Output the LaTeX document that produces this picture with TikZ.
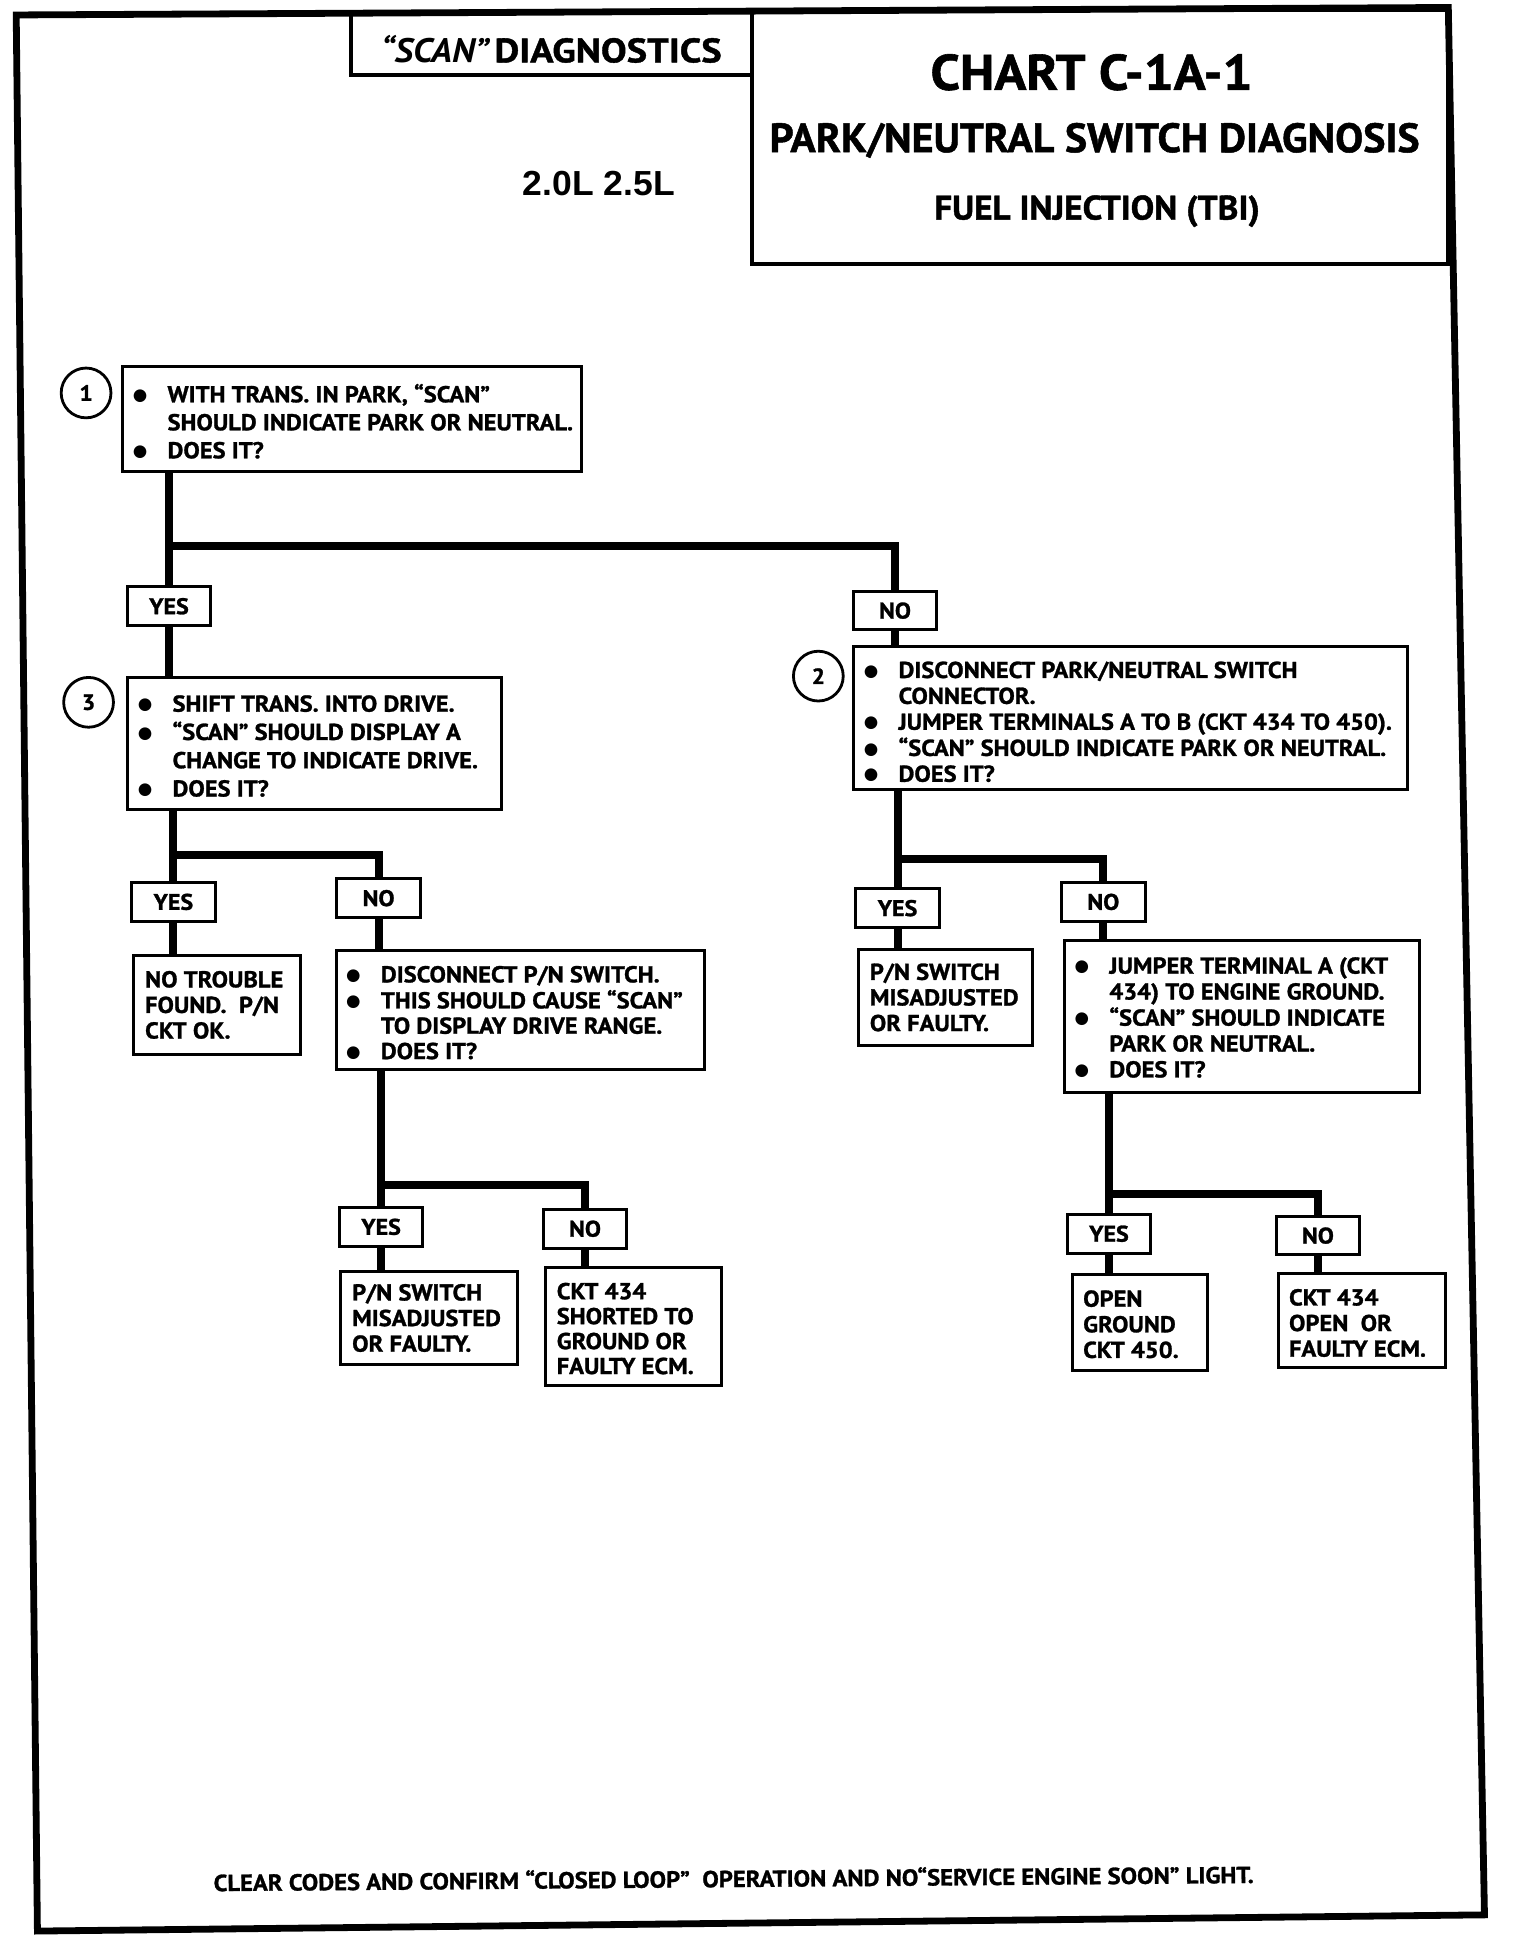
\documentclass[tikz,border=0pt]{standalone}
\usepackage{fontspec}
\usepackage{graphicx}
\setmainfont{PT Sans}[BoldFeatures={FakeStretch=1.065,FakeBold=1.2}]
\newfontfamily\libsans{Liberation Sans}
\newfontfamily\dejavu{DejaVu Sans}
\usetikzlibrary{fit,calc}
\newlength\bulw
\setlength\bulw{13.72pt}
\newcommand\bulitem{\makebox[0pt][c]{\raisebox{0.9pt}{\dejavu\fontsize{8.3}{9}\selectfont ●}}\hspace*{\bulw}}
\newcommand\hind{\hspace*{\bulw}}
\newcommand\boxlines[1]{\begin{tabular}[t]{@{}l@{}}#1\end{tabular}}
\begin{document}
\begin{tikzpicture}[x=0.6237pt,y=-0.6237pt,line join=miter,
  box/.style={draw,line width=1.5pt,inner sep=0pt},
  hbox/.style={draw,line width=2pt,inner sep=0pt},
  lab/.style={draw,line width=1.5pt,inner sep=0pt,minimum width=41.8pt,minimum height=19.3pt,font=\bfseries\fontsize{11.3}{12}\selectfont},
  num/.style={circle,draw,line width=1.4pt,minimum size=24.9pt,inner sep=0pt,font=\bfseries\fontsize{11}{12}\selectfont},
  conn/.style={line width=4pt},
  txt/.style={inner sep=0pt,anchor=base west,font=\bfseries\fontsize{11.5}{#1}\selectfont},
  txt/.default=12.8pt,
  ttl/.style={inner sep=0pt,anchor=base}
]
\fill[white] (0,0) rectangle (1218.5,1568);
\useasboundingbox (0,0) rectangle (1218.5,1568);
% outer border
\draw[line width=3.4pt] (13,12) -- (1161,6) -- (1190,1535) -- (30,1548) -- cycle;
% heading
\node[hbox,fit={(281,10)(603,60)}] (scanbox) {};
\node[hbox,fit={(603,8)(1161,212)}] (titlebox) {};
\node[ttl] (scantxt) at (442,50) {\resizebox{170.3pt}{\height}{\fontsize{17}{20}\selectfont\bfseries{\itshape “SCAN”}\,DIAGNOSTICS}};
\node[ttl] (chart) at (875,72) {\resizebox{161pt}{\height}{\fontsize{25}{30}\selectfont\bfseries CHART C-1A-1}};
\node[ttl] (pnsd) at (877.5,122) {\resizebox{325pt}{\height}{\fontsize{20.5}{24}\selectfont\bfseries PARK/NEUTRAL SWITCH DIAGNOSIS}};
\node[ttl] (fuel) at (879.5,176) {\resizebox{162.8pt}{\height}{\fontsize{17}{20}\selectfont\bfseries FUEL INJECTION (TBI)}};
\node[ttl] (eng) at (480,157) {\resizebox{76pt}{\height}{\libsans\bfseries\fontsize{17.4}{20}\selectfont 2.0L 2.5L}};
% step 1
\node[box,fit={(98,294)(466,378)}] (b1) {};
\node[num] (c1) at (69,315) {1};
\node[txt=14pt] (t1) at (112,322.5) {\boxlines{\bulitem WITH TRANS. IN PARK, “SCAN”\\ \hind SHOULD INDICATE PARK OR NEUTRAL.\\ \bulitem DOES IT?}};
\node[lab] (y1) at (135.5,486) {YES};
\node[lab] (n1) at (717.5,489.5) {NO};
% step 3
\node[box,fit={(102,543)(402,649)}] (b3) {};
\node[num] (c3) at (71,563) {3};
\node[txt=14.14pt] (t3) at (116,570.5) {\boxlines{\bulitem SHIFT TRANS. INTO DRIVE.\\ \bulitem “SCAN” SHOULD DISPLAY A\\ \hind CHANGE TO INDICATE DRIVE.\\ \bulitem DOES IT?}};
% step 2
\node[box,fit={(684,518)(1128,633)}] (b2) {};
\node[num] (c2) at (656,542) {2};
\node[txt=12.94pt] (t2) at (698,543.5) {\boxlines{\bulitem DISCONNECT PARK/NEUTRAL SWITCH\\ \hind CONNECTOR.\\ \bulitem JUMPER TERMINALS A TO B (CKT 434 TO 450).\\ \bulitem “SCAN” SHOULD INDICATE PARK OR NEUTRAL.\\ \bulitem DOES IT?}};
% below step 3
\node[lab] (y2) at (139,723) {YES};
\node[lab] (n2) at (303.5,720) {NO};
\node[box,fit={(107,766)(241,845)}] (bnt) {};
\node[txt=12.79pt] (tnt) at (116,791.5) {\boxlines{NO TROUBLE\\ FOUND.\ \ P/N\\ CKT OK.}};
\node[box,fit={(270,762)(565,857)}] (b4) {};
\node[txt=12.68pt] (t4) at (283,787.5) {\boxlines{\bulitem DISCONNECT P/N SWITCH.\\ \bulitem THIS SHOULD CAUSE “SCAN”\\ \hind TO DISPLAY DRIVE RANGE.\\ \bulitem DOES IT?}};
\node[lab] (y3) at (305.5,983.5) {YES};
\node[lab] (n3) at (469,985) {NO};
\node[box,fit={(273,1019)(415,1094)}] (bpn1) {};
\node[txt=12.8pt] (tpn1) at (282,1042.5) {\boxlines{P/N SWITCH\\ MISADJUSTED\\ OR FAULTY.}};
\node[box,fit={(437,1016)(578,1111)}] (bck1) {};
\node[txt=12.47pt] (tck1) at (446,1041.5) {\boxlines{CKT 434\\ SHORTED TO\\ GROUND OR\\ FAULTY ECM.}};
% below step 2
\node[lab] (y4) at (719.5,728) {YES};
\node[lab] (n4) at (884.5,723) {NO};
\node[box,fit={(688,761)(828,838)}] (bpn2) {};
\node[txt=12.8pt] (tpn2) at (697,785.5) {\boxlines{P/N SWITCH\\ MISADJUSTED\\ OR FAULTY.}};
\node[box,fit={(853,754)(1138,876)}] (b5) {};
\node[txt=12.94pt] (t5) at (867,780.5) {\boxlines{\bulitem JUMPER TERMINAL A (CKT\\ \hind 434) TO ENGINE GROUND.\\ \bulitem “SCAN” SHOULD INDICATE\\ \hind PARK OR NEUTRAL.\\ \bulitem DOES IT?}};
\node[lab] (y5) at (889,989) {YES};
\node[lab] (n5) at (1056.5,990.5) {NO};
\node[box,fit={(860,1022)(968,1099)}] (bog) {};
\node[txt=12.8pt] (tog) at (868,1047.5) {\boxlines{OPEN\\ GROUND\\ CKT 450.}};
\node[box,fit={(1025,1021)(1159,1096)}] (bck2) {};
\node[txt=12.8pt] (tck2) at (1033,1046.5) {\boxlines{CKT 434\\ OPEN\ \ OR\\ FAULTY ECM.}};
% connectors
\coordinate (j1) at (135.5,438);
\draw[conn] (b1.south -| y1.north) -- (y1.north);
\draw[conn] (j1) -| (n1.north);
\draw[conn] (y1.south) -- (y1.south |- b3.north);
\draw[conn] (n1.south) -- (n1.south |- b2.north);
\coordinate (j2) at (139,685);
\draw[conn] (b3.south -| y2.north) -- (y2.north);
\draw[conn] (j2) -| (n2.north);
\draw[conn] (y2.south) -- (y2.south |- bnt.north);
\draw[conn] (n2.south) -- (n2.south |- b4.north);
\coordinate (j3) at (305.5,950);
\draw[conn] (b4.south -| y3.north) -- (y3.north);
\draw[conn] (j3) -| (n3.north);
\draw[conn] (y3.south) -- (y3.south |- bpn1.north);
\draw[conn] (n3.south) -- (n3.south |- bck1.north);
\coordinate (j4) at (719.5,689);
\draw[conn] (b2.south -| y4.north) -- (y4.north);
\draw[conn] (j4) -| (n4.north);
\draw[conn] (y4.south) -- (y4.south |- bpn2.north);
\draw[conn] (n4.south) -- (n4.south |- b5.north);
\coordinate (j5) at (889,957);
\draw[conn] (b5.south -| y5.north) -- (y5.north);
\draw[conn] (j5) -| (n5.north);
\draw[conn] (y5.south) -- (y5.south |- bog.north);
\draw[conn] (n5.south) -- (n5.south |- bck2.north);
% footer
\node[inner sep=0pt,anchor=base west,rotate=0.45] (foot) at (171,1516) {\resizebox{520pt}{\height}{\fontsize{11.6}{14}\selectfont\bfseries CLEAR CODES AND CONFIRM “CLOSED LOOP”\ \ OPERATION AND NO“SERVICE ENGINE SOON” LIGHT.}};
\end{tikzpicture}
\end{document}
